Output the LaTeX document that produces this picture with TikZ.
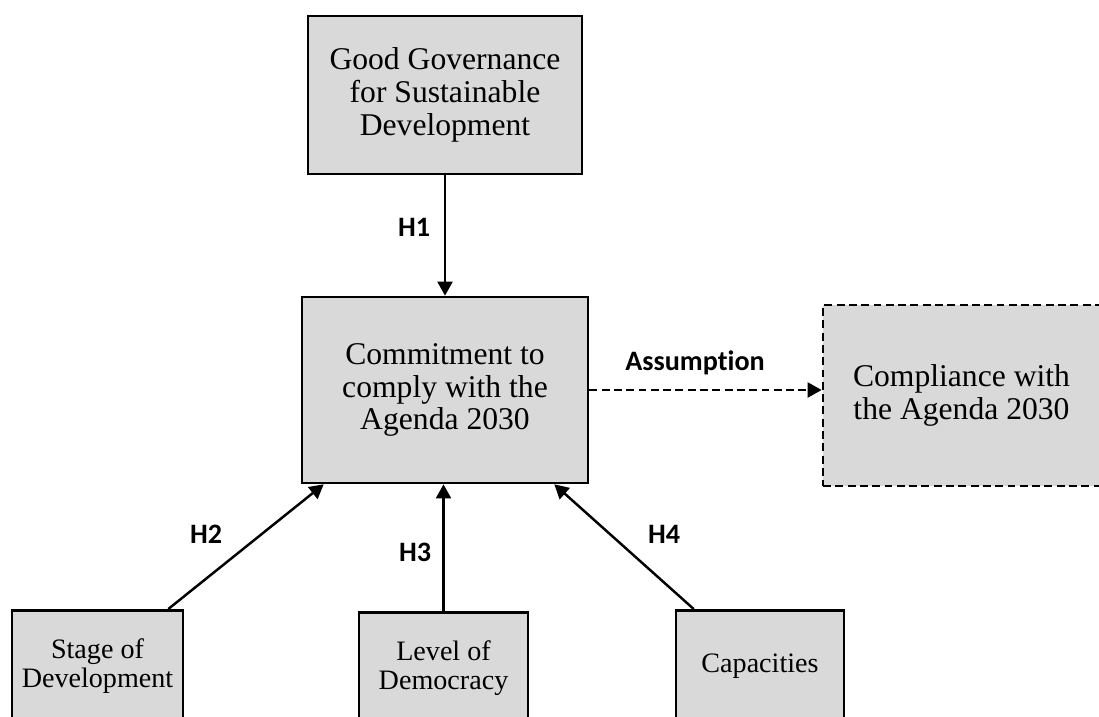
\documentclass[tikz,border=0pt]{standalone}
\usepackage{fontspec}
\setmainfont{Liberation Serif}
\newfontfamily\labelfont[Ligatures=NoCommon]{Carlito}
\usetikzlibrary{arrows.meta,calc}
\definecolor{boxgray}{RGB}{217,217,217}

\begin{document}
\begin{tikzpicture}[
  box/.style={draw=black, fill=boxgray, line width=1.5pt, align=center, inner sep=0pt},
  bigbox/.style={box, font=\fontsize{18}{18.6}\selectfont},
  smallbox/.style={box, font=\fontsize{16}{16.5}\selectfont, minimum height=2.24cm, anchor=north},
  link/.style={line width=1.4pt, -{Triangle[length=8pt,width=8.5pt]}},
  hyp/.style={font=\labelfont\bfseries\fontsize{16}{18}\selectfont}
]
\useasboundingbox (0,0) rectangle (21.98,-14.32);
\clip (0,0) rectangle (21.98,-14.32);

% main constructs
\node[bigbox, minimum width=5.48cm, minimum height=3.16cm] (gov) at (8.9,-1.9)
    {Good Governance\\for Sustainable\\Development};
\node[bigbox, minimum width=5.72cm, minimum height=3.72cm] (commit) at (8.9,-7.8)
    {Commitment to\\comply with the\\Agenda 2030};
\node[bigbox, dash pattern=on 4.5pt off 2.5pt, minimum width=5.54cm, minimum height=3.62cm]
    (comply) at (19.23,-7.91) {Compliance with\\the Agenda 2030};

% determinants along the bottom
\node[smallbox, minimum width=3.42cm] (stage) at (1.95,-12.18) {Stage of\\Development};
\node[smallbox, minimum width=3.38cm] (democ) at (8.87,-12.22) {Level of\\Democracy};
\node[smallbox, minimum width=3.36cm] (capac) at (15.2,-12.18) {Capacities};

% hypotheses
\draw[link] (gov) -- (commit);
\draw[link] ($(stage.north east)+(-0.32,0)$) -- ($(commit.south west)+(0.46,0)$);
\draw[link] (democ.north) -- (democ.north |- commit.south);
\draw[link] ($(capac.north west)+(0.38,0)$) -- ($(commit.south east)+(-0.7,0)$);
\draw[link, dash pattern=on 4.5pt off 2.5pt] (commit.east) -- (commit.east -| comply.west);

\node[hyp] (h1) at (8.28,-4.54) {H1};
\node[hyp] (h2) at (4.12,-10.68) {H2};
\node[hyp] (h3) at (8.3,-11.04) {H3};
\node[hyp] (h4) at (13.28,-10.68) {H4};
\node[hyp] (assume) at (13.9,-7.26) {Assumption};
\end{tikzpicture}
\end{document}
